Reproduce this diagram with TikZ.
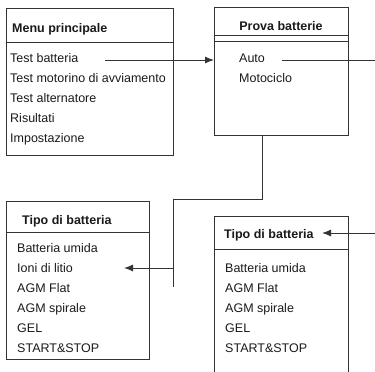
\documentclass[tikz,border=0pt]{standalone}
\usepackage{fontspec}
\setmainfont{Liberation Sans}
\usetikzlibrary{arrows.meta}
\definecolor{ln}{HTML}{333333}
\definecolor{tx}{HTML}{1A1A1A}
\begin{document}
\begin{tikzpicture}[x=1pt,y=-1pt,
  box/.style={draw=ln, line width=1pt, anchor=north west, inner sep=0pt},
  item/.style={anchor=base west, inner sep=0pt, text=tx, font=\fontsize{12.5}{15}\selectfont},
  ttl/.style={anchor=base west, inner sep=0pt, text=tx, font=\fontsize{12.5}{15}\selectfont\bfseries},
  conn/.style={draw=ln, line width=1pt},
  arr/.style={conn, -{Latex[length=9pt,width=7pt]}}]
\clip (0,0) rectangle (375,372);
% boxes
\node[box, minimum width=167pt, minimum height=147pt] (menu) at (6,8) {};
\node[box, minimum width=134pt, minimum height=128pt] (prova) at (214,7) {};
\node[box, minimum width=143pt, minimum height=158pt] (tipoA) at (6,201) {};
\node[box, minimum width=134pt, minimum height=180pt] (tipoB) at (214,216) {};
% dividers
\draw[conn] (menu.west |- 0,42) -- (menu.east |- 0,42);
\draw[conn] (prova.west |- 0,35) -- (prova.east |- 0,35);
\draw[conn] (prova.west |- 0,41) -- (prova.east |- 0,41);
\draw[conn] (tipoA.west |- 0,232) -- (tipoA.east |- 0,232);
\draw[conn] (tipoB.west |- 0,249) -- (tipoB.east |- 0,249);
% Menu principale
\node[ttl] (mt) at (12,32) {Menu principale};
\node[item] (m1) at (10,62) {Test batteria};
\node[item] (m2) at (10,82) {Test motorino di avviamento};
\node[item] (m3) at (10,102) {Test alternatore};
\node[item] (m4) at (10,122) {Risultati};
\node[item] (m5) at (10,142) {Impostazione};
% Prova batterie
\node[ttl, anchor=base] (pt) at (281,30) {Prova batterie};
\node[item] (p1) at (239,62) {Auto};
\node[item] (p2) at (239,82) {Motociclo};
% Tipo di batteria (left)
\node[ttl] (at) at (22,224) {Tipo di batteria};
\node[item] (a1) at (17,252) {Batteria umida};
\node[item] (a2) at (17,272) {Ioni di litio};
\node[item] (a3) at (17,292) {AGM Flat};
\node[item] (a4) at (17,312) {AGM spirale};
\node[item] (a5) at (17,332) {GEL};
\node[item] (a6) at (17,352) {START\&STOP};
% Tipo di batteria (right)
\node[ttl] (bt) at (224,238) {Tipo di batteria};
\node[item] (b1) at (225,272) {Batteria umida};
\node[item] (b2) at (225,292) {AGM Flat};
\node[item] (b3) at (225,312) {AGM spirale};
\node[item] (b4) at (225,332) {GEL};
\node[item] (b5) at (225,352) {START\&STOP};
% connectors
\coordinate (tbout) at (105,60);
\draw[arr] (tbout) -- (tbout -| prova.west);
\coordinate (auout) at (282,60);
\coordinate (edgeA) at (376,60);
\draw[conn] (auout) -- (edgeA);
\coordinate (edgeB) at (376,233);
\coordinate (tipB) at (322,233);
\draw[arr] (edgeB) -- (tipB);
\coordinate (j1) at (262,199);
\coordinate (j2) at (173,199);
\coordinate (j3) at (173,287);
\draw[conn] (j1 |- prova.south) -- (j1) -- (j2) -- (j3);
\coordinate (jI) at (173,268);
\coordinate (tipI) at (124,268);
\draw[arr] (jI) -- (tipI);
\end{tikzpicture}
\end{document}
